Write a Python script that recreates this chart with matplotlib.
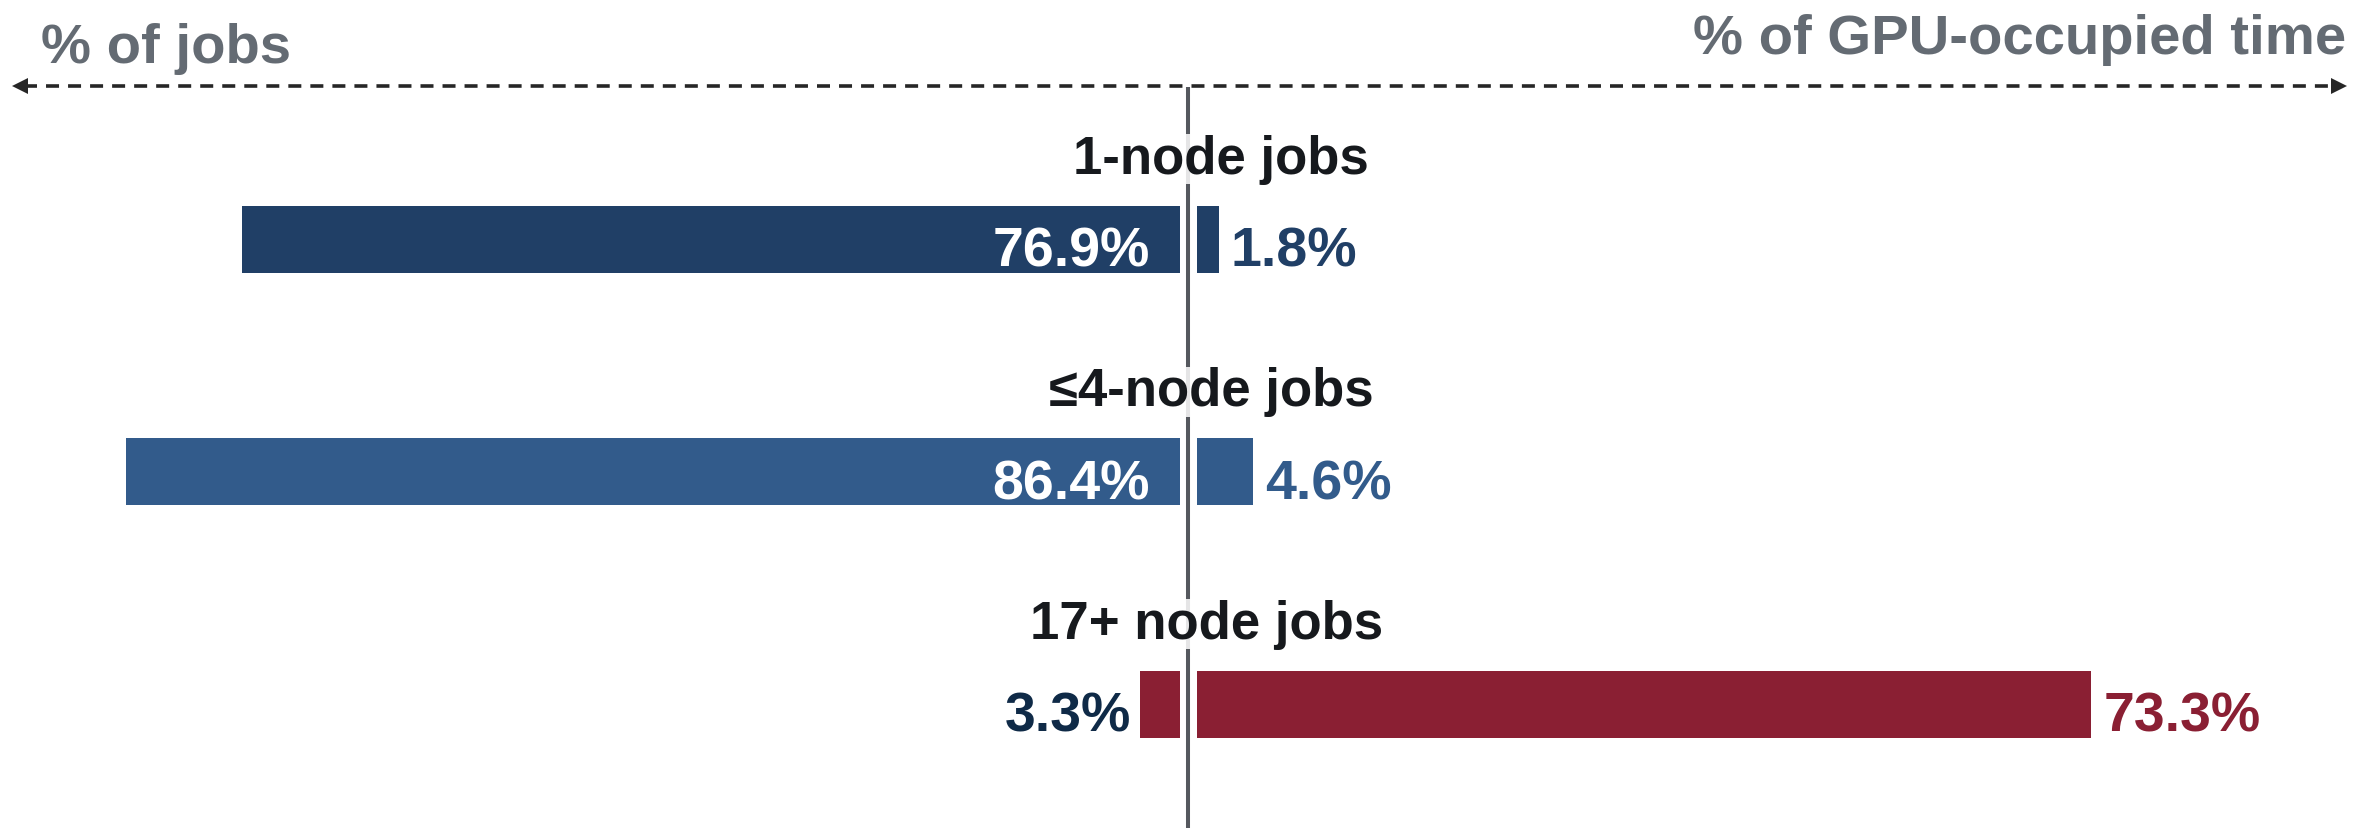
import matplotlib
matplotlib.use("Agg")
from matplotlib import pyplot as plt

categories = ["1-node jobs", "\u22644-node jobs", "17+ node jobs"]
pct_jobs = [76.9, 86.4, 3.3]
pct_gpu_time = [1.8, 4.6, 73.3]
bar_colors = ["#203F66", "#325B8B", "#8A1F33"]
left_label_colors = ["white", "white", "#0F2A47"]
right_label_colors = ["#203F66", "#325B8B", "#8A1F33"]
left_title = "% of jobs"
right_title = "% of GPU-occupied time"

plt.rcParams["font.family"] = ["Liberation Sans", "DejaVu Sans"]
plt.rcParams["font.weight"] = "bold"

W, H, DPI = 2353, 829, 100
PX = 12.2          # pixels per percent
CX = 1188.5        # pixel position of the centre line
ROW0, ROWSTEP = 240, 232.5  # pixel y of first row, row spacing
label_cx = [1221, 1211, 1207]  # pixel centres of the category labels

fig = plt.figure(figsize=(W / DPI, H / DPI), dpi=DPI)
ax = fig.add_axes([0, 0, 1, 1])
ax.set_xlim(-CX / PX, (W - CX) / PX)
ax.set_ylim((H - ROW0) / ROWSTEP, -ROW0 / ROWSTEP)
ax.axis("off")

def px_x(p):
    return (p - CX) / PX

def px_y(p):
    return (p - ROW0) / ROWSTEP

gap = 8.5 / PX
bar_h = 67 / ROWSTEP
rows = list(range(len(categories)))

# bars on both sides of the centre line
ax.barh(rows, [-v for v in pct_jobs], left=-gap, height=bar_h, color=bar_colors, zorder=2)
ax.barh(rows, pct_gpu_time, left=gap, height=bar_h, color=bar_colors, zorder=2)

# centre line
ax.plot([0, 0], [px_y(88), px_y(H + 5)], color="#55585E", lw=2.9, zorder=1,
        solid_capstyle="butt")

base_off = 27 / ROWSTEP
for i in rows:
    # left value labels: inside when the bar is long, outside otherwise
    if pct_jobs[i] > 10:
        ax.text(-gap - 30 / PX, i + base_off, f"{pct_jobs[i]}%", ha="right",
                va="baseline", fontsize=40, color=left_label_colors[i], zorder=3)
    else:
        ax.text(-gap - pct_jobs[i] - 9 / PX, i + base_off, f"{pct_jobs[i]}%",
                ha="right", va="baseline", fontsize=40,
                color=left_label_colors[i], zorder=3)
    ax.text(gap + pct_gpu_time[i] + 12 / PX, i + base_off, f"{pct_gpu_time[i]}%",
            ha="left", va="baseline", fontsize=40,
            color=right_label_colors[i], zorder=3)
    # category label above each pair of bars
    ax.text(px_x(label_cx[i]), i - 66 / ROWSTEP, categories[i], ha="center",
            va="baseline", fontsize=38, color="#16191D", zorder=4,
            bbox=dict(fc="white", ec="none", alpha=0.85, pad=0))

# header arrows
arrow_y = px_y(87)
ax.plot([px_x(24), px_x(2335)], [arrow_y, arrow_y], color="#262626", lw=2.6,
        dashes=(3.6, 2.5), zorder=1)
ax.plot([px_x(20)], [arrow_y], marker="<", ms=11, color="#262626", mew=0)
ax.plot([px_x(2339)], [arrow_y], marker=">", ms=11, color="#262626", mew=0)

ax.text(px_x(41), px_y(63), left_title, ha="left", va="baseline", fontsize=40.5,
        color="#646B73")
ax.text(px_x(2346), px_y(54), right_title, ha="right", va="baseline", fontsize=40.5,
        color="#646B73")

fig.savefig("out.png", dpi=DPI)
